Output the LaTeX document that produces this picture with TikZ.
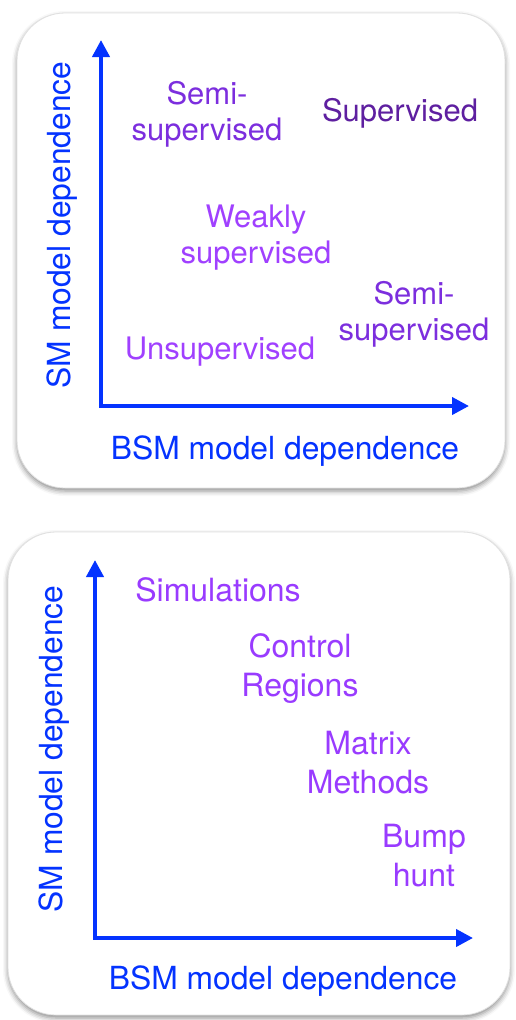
\documentclass[tikz,border=0pt]{standalone}
\usepackage{fontspec}
\setmainfont{TeX Gyre Heros}
\usetikzlibrary{arrows.meta,shadows.blur}

\definecolor{axisblue}{RGB}{4,51,255}
\definecolor{supcol}{RGB}{94,31,160}
\definecolor{semicol}{RGB}{124,46,222}
\definecolor{weakcol}{RGB}{160,64,255}
\definecolor{methcol}{RGB}{153,59,255}

\begin{document}
\begin{tikzpicture}[x=1pt,y=-1pt,
		panel/.style={draw=black!12,line width=0.8pt,fill=white,rounded corners=48pt,
			blur shadow={shadow xshift=0pt,shadow yshift=-3pt,shadow blur radius=5pt,shadow opacity=45}},
		axis/.style={axisblue,line width=4pt,{Triangle[width=17pt,length=17pt]}-{Triangle[width=17pt,length=17pt]}},
		axlabel/.style={axisblue,inner sep=0pt,font=\fontsize{31.8}{38}\selectfont},
		lab/.style={inner sep=0pt,align=center,font=\fontsize{31}{36}\selectfont},
		meth/.style={inner sep=0pt,align=center,methcol,font=\fontsize{32}{39}\selectfont}]
		\useasboundingbox (0,0) rectangle (516,1020);
		% upper panel: learning paradigms
		\draw[panel] (17,13) rectangle (505,488);
		\coordinate (ytop1) at (101,40);
		\coordinate (xend1) at (469,406);
		\draw[axis] (ytop1) |- (xend1);
		\node[axlabel,rotate=90] (ylab1) at (62,225) {SM model dependence};
		\node[axlabel] (xlab1) at (285,451) {BSM model dependence};
		\node[lab,semicol] (semi1) at (207,114) {Semi-\\supervised};
		\node[lab,supcol] (sup) at (400,113) {Supervised};
		\node[lab,weakcol] (weak) at (256,238) {Weakly\\supervised};
		\node[lab,semicol] (semi2) at (414,314) {Semi-\\supervised};
		\node[lab,weakcol] (unsup) at (220,352) {Unsupervised};
		% lower panel: classic methods
		\draw[panel] (8,532) rectangle (510,1015);
		\coordinate (ytop2) at (95,560);
		\coordinate (xend2) at (473,938);
		\draw[axis] (ytop2) |- (xend2);
		\node[axlabel,rotate=90] (ylab2) at (54,749) {SM model dependence};
		\node[axlabel] (xlab2) at (283,981) {BSM model dependence};
		\node[meth] (sim) at (218,590) {Simulations};
		\node[meth] (ctrl) at (300,669) {Control\\Regions};
		\node[meth] (matrix) at (368,763) {Matrix\\Methods};
		\node[meth] (bump) at (424,856) {Bump\\hunt};
	\end{tikzpicture}
\end{document}
